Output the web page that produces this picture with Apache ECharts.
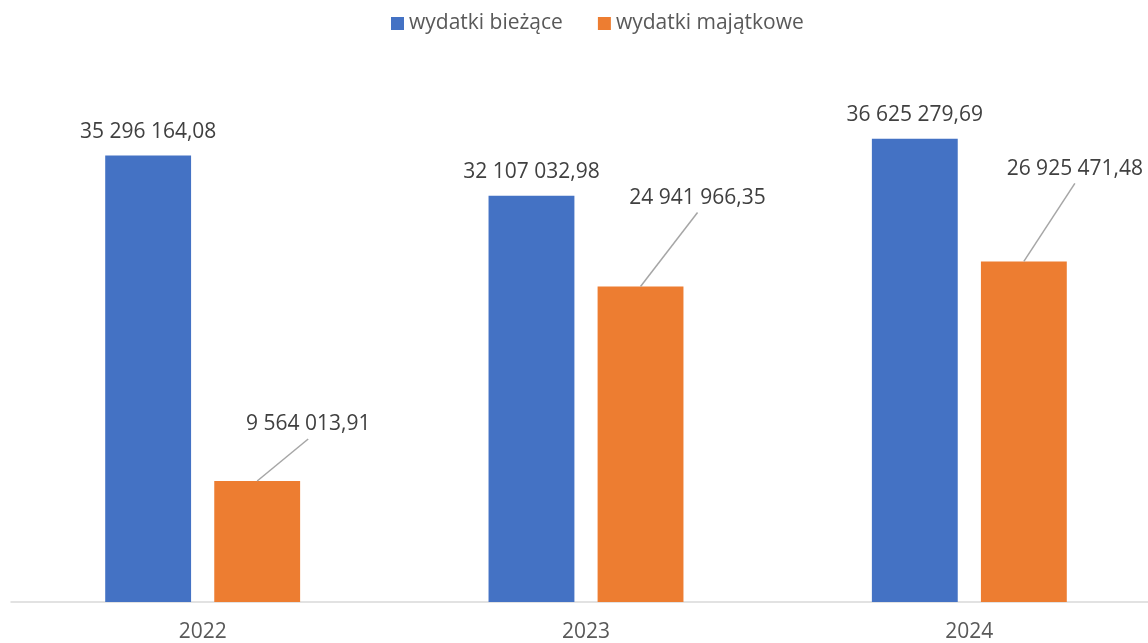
<!DOCTYPE html>
<html>
<head>
<meta charset="utf-8">
<script src="https://cdn.jsdelivr.net/npm/echarts@6/dist/echarts.min.js"></script>
<style>
html,body{margin:0;padding:0;background:#fff;}
#chart{width:1148px;height:643px;}
</style>
</head>
<body>
<div id="chart"></div>
<script>
const categories = ['2022', '2023', '2024'];
const seriesNames = ['wydatki bieżące', 'wydatki majątkowe'];
const biezace = [35296164.08, 32107032.98, 36625279.69];
const majatkowe = [9564013.91, 24941966.35, 26925471.48];

// leader-line end offsets (px) from the orange bar top for manually placed labels
const leaderOffsets = [[51, -42], [57, -74], [51, -78]];

const FONT = '"Open Sans", "Noto Sans", sans-serif';
const BAR_W = 0.224;   // fraction of category band
const BAR_GAP = 0.27;  // fraction of bar width

function fmt(v) {
  const parts = v.toFixed(2).split('.');
  const intPart = parts[0].replace(/\B(?=(\d{3})+(?!\d))/g, ' ');
  return intPart + ',' + parts[1];
}

const chart = echarts.init(document.getElementById('chart'));
chart.setOption({
  animation: false,
  backgroundColor: '#ffffff',
  legend: {
    data: seriesNames,
    top: 8,
    left: 386,
    icon: 'rect',
    itemWidth: 13,
    itemHeight: 13,
    itemGap: 35,
    textStyle: { fontFamily: FONT, fontSize: 21, color: '#595959' }
  },
  grid: { left: 11, width: 1150, top: 96, bottom: 41, containLabel: false, outerBoundsMode: 'none' },
  xAxis: {
    type: 'category',
    data: categories,
    axisLine: { lineStyle: { color: '#D9D9D9', width: 1.5 } },
    axisTick: { show: false },
    axisLabel: { fontFamily: FONT, fontSize: 21, color: '#595959', margin: 20 }
  },
  yAxis: {
    type: 'value',
    min: 0,
    max: 40000000,
    show: false,
    splitLine: { show: false }
  },
  series: [
    {
      name: seriesNames[0],
      type: 'bar',
      data: biezace,
      barWidth: (BAR_W * 100) + '%',
      barGap: (BAR_GAP * 100) + '%',
      itemStyle: { color: '#4472C4' },
      label: {
        show: true,
        position: 'top',
        distance: 13,
        fontFamily: FONT,
        fontSize: 21,
        color: '#404040',
        formatter: p => fmt(p.value)
      }
    },
    {
      name: seriesNames[1],
      type: 'bar',
      data: majatkowe,
      barWidth: (BAR_W * 100) + '%',
      itemStyle: { color: '#ED7D31' }
    },
    {
      name: 'labels-majatkowe',
      type: 'custom',
      silent: true,
      z: 5,
      data: majatkowe.map((v, i) => [i, v]),
      renderItem: function (params, api) {
        const i = api.value(0);
        const v = api.value(1);
        const pt = api.coord([i, v]);
        const band = api.size([1, 0])[0];
        const bw = band * BAR_W;
        const gap = bw * BAR_GAP;
        const x0 = pt[0] + (bw + gap) / 2;
        const y0 = pt[1];
        const off = leaderOffsets[i];
        const x1 = x0 + off[0];
        const y1 = y0 + off[1];
        return {
          type: 'group',
          children: [
            {
              type: 'line',
              shape: { x1: x0, y1: y0, x2: x1, y2: y1 },
              style: { stroke: '#A6A6A6', lineWidth: 1.5 }
            },
            {
              type: 'text',
              style: {
                text: fmt(v),
                x: x1,
                y: y1 - 4,
                align: 'center',
                verticalAlign: 'bottom',
                fontFamily: FONT,
                fontSize: 21,
                fill: '#404040'
              }
            }
          ]
        };
      }
    }
  ]
});
</script>
</body>
</html>
